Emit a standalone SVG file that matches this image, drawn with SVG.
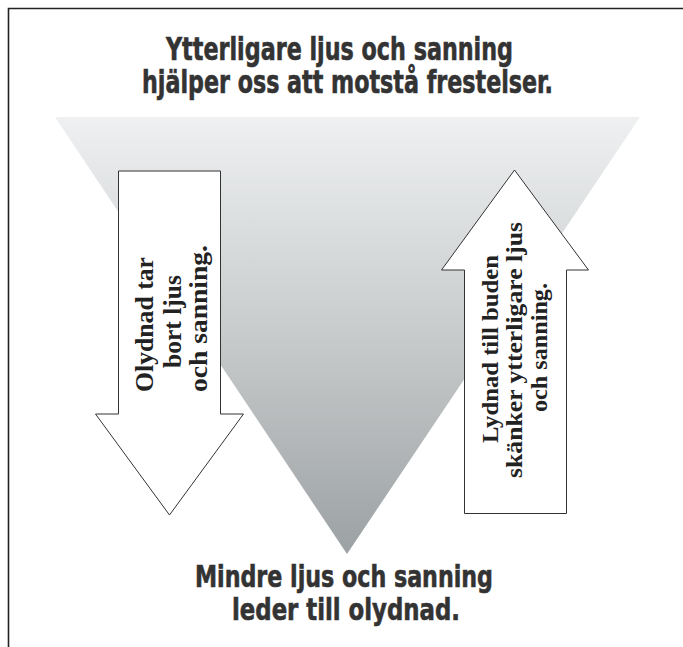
<svg xmlns="http://www.w3.org/2000/svg" width="683" height="647" viewBox="0 0 683 647">
<defs>
<linearGradient id="tri" gradientUnits="userSpaceOnUse" x1="0" y1="117" x2="0" y2="554">
<stop offset="0" stop-color="#eef0f1"/>
<stop offset="0.5" stop-color="#c8cbcc"/>
<stop offset="1" stop-color="#9ca1a3"/>
</linearGradient>
<style>
.frame{stroke:#222;stroke-width:1.6;fill:none}
.head{font-family:"DejaVu Sans Condensed","DejaVu Sans","Liberation Sans",sans-serif;font-stretch:condensed;font-weight:bold;fill:#333;stroke:#333;stroke-width:0.6}
.arrow{fill:#fff;stroke:#333;stroke-width:1}
.lbl{font-family:"Liberation Serif","DejaVu Serif",serif;font-weight:bold;fill:#222;text-anchor:start}
</style>
</defs>
<rect width="683" height="647" fill="#fff"/>
<path class="frame" d="M8.5 647 V8.5 H683"/>
<polygon id="triangle" points="55,117 640,117 347,554" fill="url(#tri)"/>
<g id="title">
<text class="head" font-size="32" x="166" y="60" textLength="347" lengthAdjust="spacingAndGlyphs">Ytterligare ljus och sanning</text>
<text class="head" font-size="32" x="142" y="93" textLength="411" lengthAdjust="spacingAndGlyphs">hjälper oss att motstå frestelser.</text>
</g>
<g id="bottom">
<text class="head" font-size="31" x="195" y="587" textLength="298" lengthAdjust="spacingAndGlyphs">Mindre ljus och sanning</text>
<text class="head" font-size="31" x="232" y="620" textLength="228" lengthAdjust="spacingAndGlyphs">leder till olydnad.</text>
</g>
<g id="down-arrow">
<polygon class="arrow" points="118.5,171 220.5,171 220.5,414 243.5,414 169.5,515 95.5,414 118.5,414"/>
<g class="lbl" font-size="26">
<text transform="translate(153,392) rotate(-90)" textLength="135" lengthAdjust="spacingAndGlyphs">Olydnad tar</text>
<text transform="translate(181,368) rotate(-90)" textLength="93" lengthAdjust="spacingAndGlyphs">bort ljus</text>
<text transform="translate(207,392) rotate(-90)" textLength="147" lengthAdjust="spacingAndGlyphs">och sanning.</text>
</g>
</g>
<g id="up-arrow">
<polygon class="arrow" points="464.5,513.5 566.5,513.5 566.5,270 588.5,270 514.5,170 441.5,270 464.5,270"/>
<g class="lbl" font-size="23">
<text transform="translate(498,443) rotate(-90)" textLength="188" lengthAdjust="spacingAndGlyphs">Lydnad till buden</text>
<text transform="translate(522,478) rotate(-90)" textLength="256" lengthAdjust="spacingAndGlyphs">skänker ytterligare ljus</text>
<text transform="translate(547,412) rotate(-90)" textLength="129" lengthAdjust="spacingAndGlyphs">och sanning.</text>
</g>
</g>
<g id="connectors"/>
</svg>
